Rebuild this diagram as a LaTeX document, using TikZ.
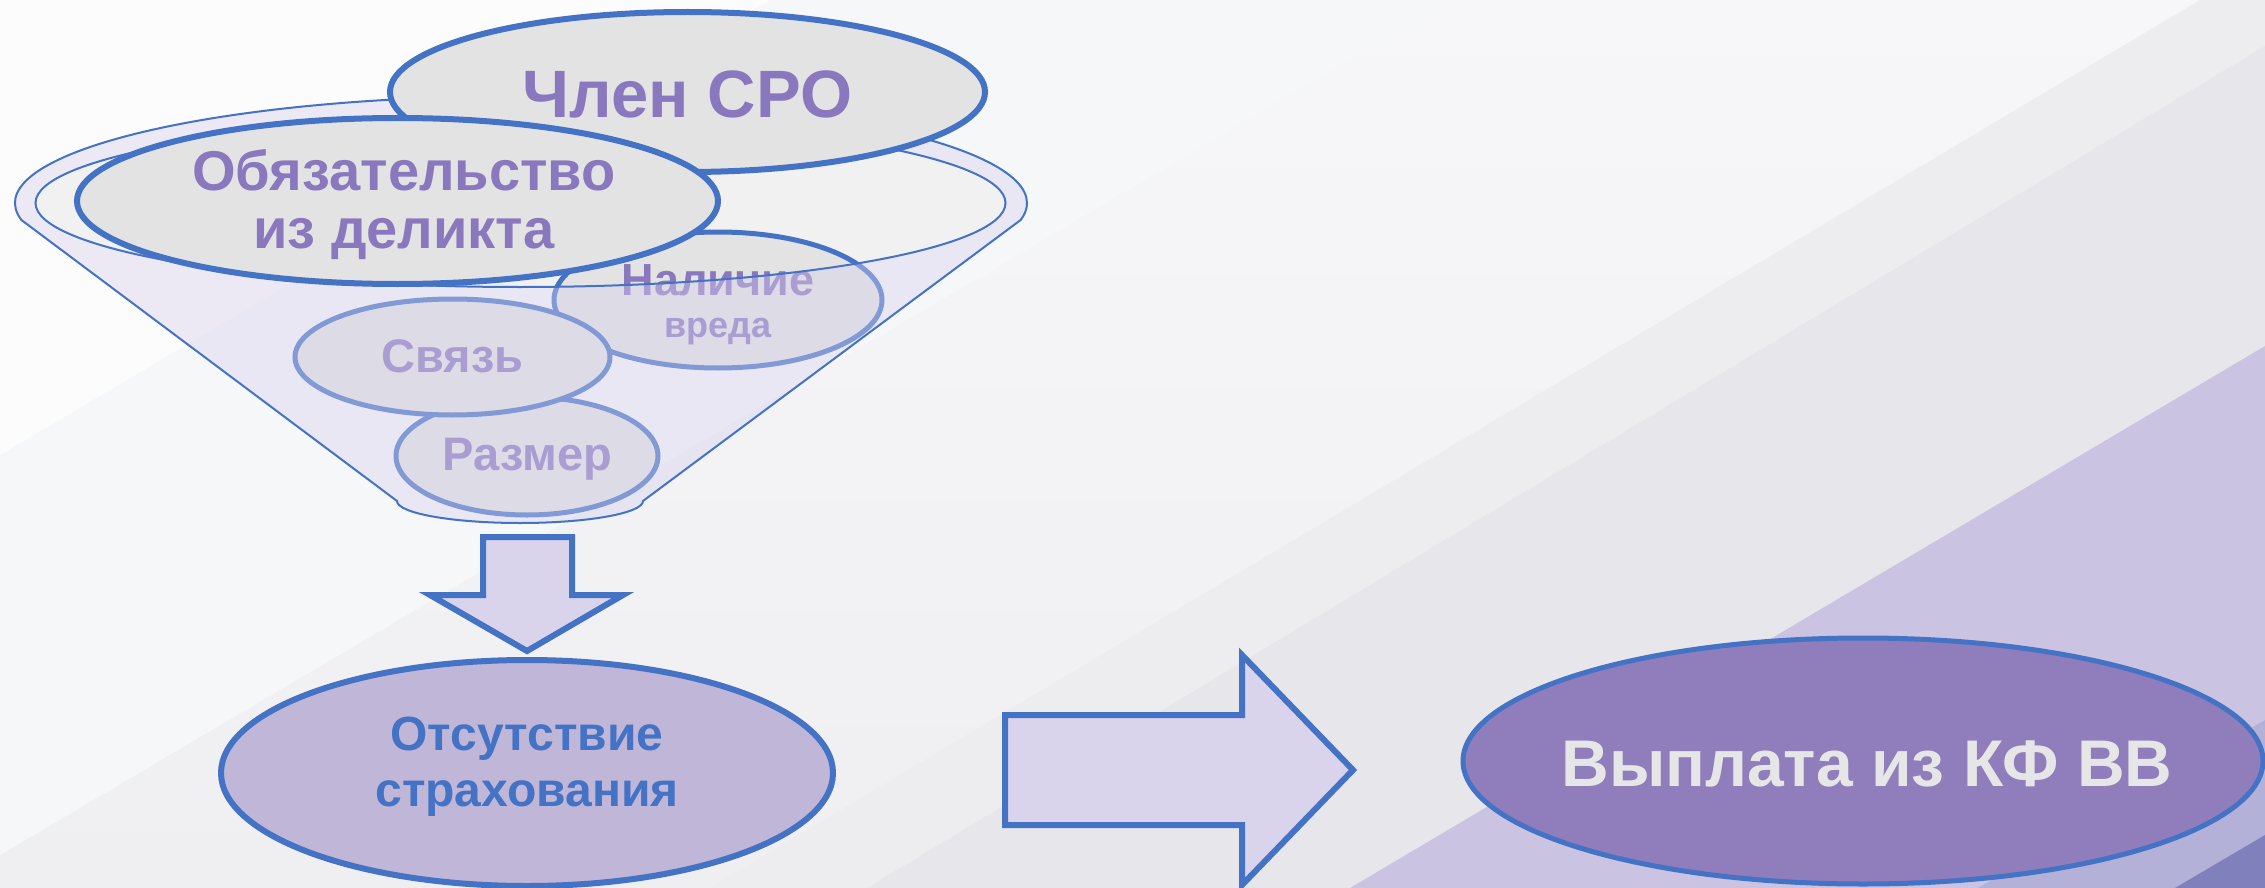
\documentclass[tikz,border=0pt]{standalone}
\usepackage{fontspec}
\setmainfont{Liberation Sans}
\usetikzlibrary{shapes.geometric}
\definecolor{bluestroke}{HTML}{4472C4}
\definecolor{txtpurple}{HTML}{8A78BE}
\definecolor{ellgray}{HTML}{E3E3E3}
\definecolor{mouthgray}{HTML}{F1F1F2}
\definecolor{overlaycol}{HTML}{D6D1EC}
\definecolor{arrowfill}{HTML}{D9D3EC}
\definecolor{absfill}{HTML}{BFB6D8}
\definecolor{payfill}{HTML}{8F7DBC}
\definecolor{paytext}{HTML}{E6E6E6}
\definecolor{bgA}{HTML}{FCFCFD}
\definecolor{bgB}{HTML}{F6F7F9}
\definecolor{bgCtop}{HTML}{F7F7F9}
\definecolor{bgCbot}{HTML}{EFEFF2}
\definecolor{bgD}{HTML}{EDEDF0}
\definecolor{bgE}{HTML}{E7E7EB}
\definecolor{purA}{HTML}{CAC4E2}
\definecolor{purB}{HTML}{B4B1D9}
\definecolor{purC}{HTML}{8080BC}
\begin{document}
\begin{tikzpicture}[x=1pt,y=-1pt,
  bigell/.style={ellipse, draw=bluestroke, line width=6pt, fill=ellgray, inner sep=0pt},
  smallell/.style={ellipse, draw=bluestroke, line width=5pt, fill=ellgray, inner sep=0pt},
  lbl/.style={anchor=base, inner sep=0pt, text=txtpurple},
  funnelline/.style={draw=bluestroke, line width=2pt},
  blockarrow/.style={draw=bluestroke, line width=6pt, fill=arrowfill, line join=miter}
]
\useasboundingbox (0,0) rectangle (2265,888);
% ---------- background ----------
\shade[top color=bgCtop, bottom color=bgCbot] (0,0) rectangle (2265,888);
\fill[bgB] (0,0) -- (1450,0) -- (0,855) -- cycle;
\fill[bgA] (0,0) -- (770,0) -- (0,455) -- cycle;
\fill[bgD] (710,888) -- (2200,0) -- (2265,0) -- (2265,888) -- cycle;
\fill[bgE] (867,888) -- (2265,46) -- (2265,888) -- cycle;
\fill[purA] (1350,888) -- (2265,346) -- (2265,888) -- cycle;
\fill[purB] (1978,888) -- (2265,720) -- (2265,888) -- cycle;
\fill[purC] (2175,888) -- (2265,835) -- (2265,888) -- cycle;
% ---------- funnel mouth ----------
\fill[mouthgray] (520.5,203) ellipse[x radius=485pt, y radius=84pt];
% ---------- small ellipses inside funnel ----------
\node[smallell, minimum width=328pt, minimum height=136pt] (harm) at (718,300) {};
\node[lbl, font=\bfseries\fontsize{45}{50}\selectfont] (harmA) at (718,295) {Наличие};
\node[lbl, font=\bfseries\fontsize{36}{40}\selectfont] (harmB) at (718,337) {вреда};
\node[smallell, minimum width=262pt, minimum height=118pt] (size) at (527,456) {};
\node[lbl, font=\bfseries\fontsize{47}{52}\selectfont] (sizeT) at (527.5,470) {Размер};
\node[smallell, minimum width=315pt, minimum height=116pt] (link) at (452.5,357) {};
\node[lbl, font=\bfseries\fontsize{47}{52}\selectfont] (linkT) at (452.5,372) {Связь};
% ---------- translucent funnel body ----------
\fill[overlaycol, fill opacity=0.42, even odd rule]
  (21.4,220) arc[start angle=189.1, end angle=-9.1, x radius=506pt, y radius=107pt]
  -- (643,501) arc[start angle=0, end angle=-180, x radius=123pt, y radius=22pt] -- cycle
  (520.5,203) ellipse[x radius=485pt, y radius=84pt];
\draw[funnelline]
  (21.4,220) arc[start angle=189.1, end angle=-9.1, x radius=506pt, y radius=107pt]
  -- (643,501) arc[start angle=0, end angle=-180, x radius=123pt, y radius=22pt] -- cycle;
\draw[funnelline] (520.5,203) ellipse[x radius=485pt, y radius=84pt];
% ---------- top ellipses ----------
\node[bigell, minimum width=595pt, minimum height=160pt] (member) at (687.5,92) {};
\node[lbl, font=\bfseries\fontsize{67}{72}\selectfont] (memberT) at (687.5,118) {Член СРО};
\node[bigell, minimum width=641pt, minimum height=166pt] (tort) at (397.5,201) {};
\node[lbl, font=\bfseries\fontsize{56}{58}\selectfont] (tortA) at (404,190) {Обязательство};
\node[lbl, font=\bfseries\fontsize{56}{58}\selectfont] (tortB) at (404,248) {из деликта};
% ---------- down arrow ----------
\draw[blockarrow] (483,537) -- (572,537) -- (572,595) -- (623,595) -- (527,651)
  -- (430,595) -- (483,595) -- cycle;
% ---------- no insurance ----------
\node[bigell, fill=absfill, minimum width=612pt, minimum height=226pt] (noins) at (527,773) {};
\node[lbl, text=bluestroke, font=\bfseries\fontsize{48}{56}\selectfont] (noinsA) at (527,750) {Отсутствие};
\node[lbl, text=bluestroke, font=\bfseries\fontsize{48}{56}\selectfont] (noinsB) at (527,806) {страхования};
% ---------- right arrow ----------
\draw[blockarrow] (1005,715) -- (1242,715) -- (1242,655) -- (1353,770) -- (1242,885)
  -- (1242,825) -- (1005,825) -- cycle;
% ---------- payment ----------
\node[bigell, line width=5pt, fill=payfill, minimum width=800pt, minimum height=246pt] (pay) at (1863,761) {};
\node[lbl, text=paytext, font=\bfseries\fontsize{66}{72}\selectfont] (payT) at (1867,786) {Выплата из КФ ВВ};
\end{tikzpicture}
\end{document}
